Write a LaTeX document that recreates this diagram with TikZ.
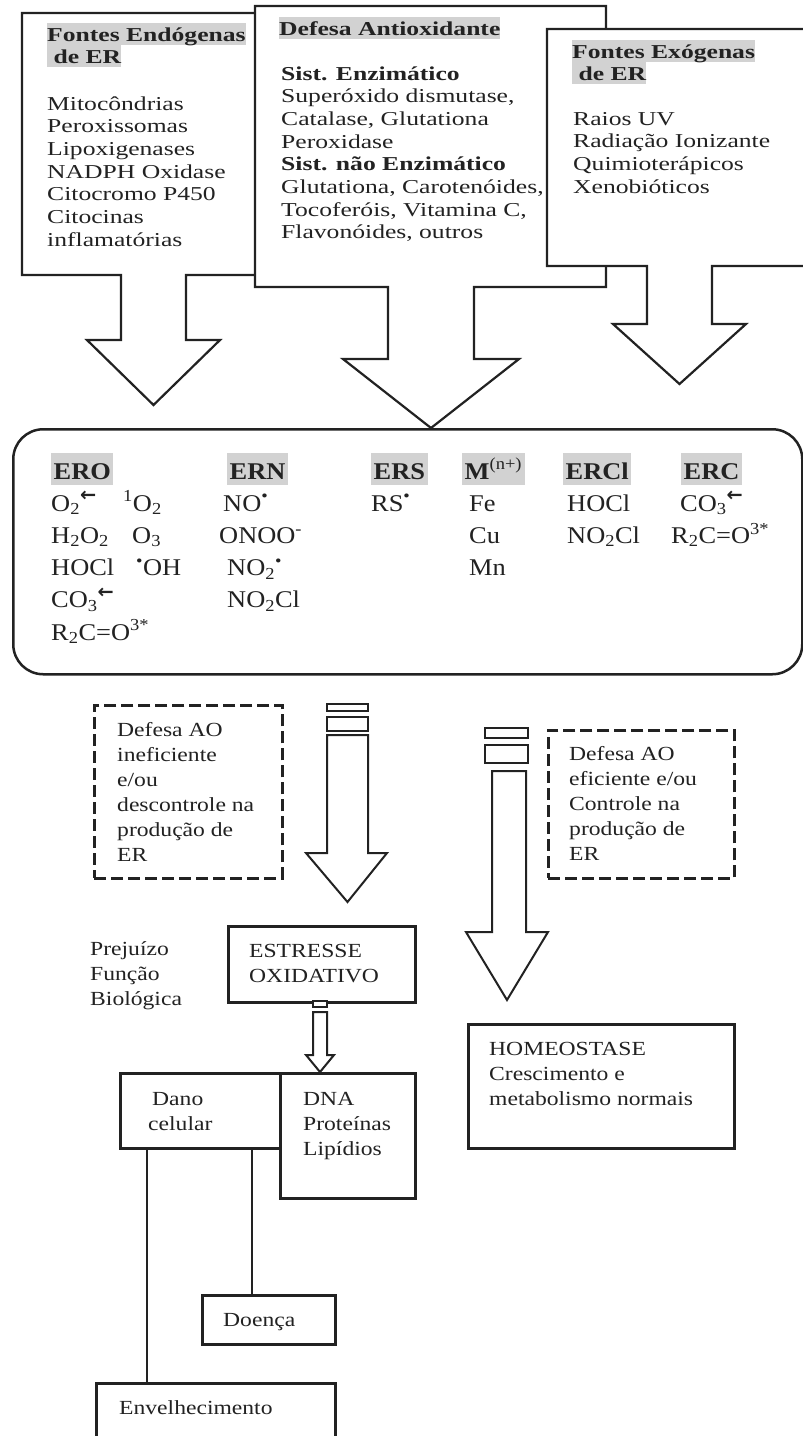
\documentclass[tikz,border=0pt]{standalone}
\usepackage{fontspec}
\setmainfont{Liberation Serif}
\newfontfamily\topfont[FakeStretch=1.3]{Liberation Serif}
\newfontfamily\boxfont[FakeStretch=1.1]{Liberation Serif}
\newfontfamily\lowfont[FakeStretch=1.18]{Liberation Serif}
\newfontfamily\symfont{DejaVu Sans}
\usepackage{tikz}
\usetikzlibrary{positioning}
\definecolor{inkgray}{HTML}{222222}
\definecolor{hdrgray}{HTML}{D2D2D2}
\newcommand{\ssub}[1]{\textsubscript{#1}}
\newcommand{\rad}{\textsuperscript{•}}
\newcommand{\radan}{\textsuperscript{{\symfont\bfseries\scalebox{1.15}{←}}}}

\begin{document}
\begin{tikzpicture}[x=1pt,y=-1pt,color=inkgray,
srcbox/.style={draw=inkgray,line width=2.2pt,fill=white,line join=miter},
hdr/.style={fill=hdrgray,inner sep=0pt,text height=18pt,text depth=4pt,anchor=base west,font=\topfont\bfseries\fontsize{19.7}{22.7}\selectfont},
toptxt/.style={align=left,anchor=base west,inner sep=0pt,font=\topfont\fontsize{19.7}{22.7}\selectfont},
boxhdr/.style={fill=hdrgray,inner xsep=2.5pt,inner ysep=0pt,text height=26pt,text depth=6pt,anchor=base west,font=\boxfont\bfseries\fontsize{24}{32.25}\selectfont},
coltxt/.style={align=left,anchor=base west,inner sep=0pt,font=\boxfont\fontsize{24}{32.25}\selectfont},
lowtxt/.style={align=left,anchor=base west,inner sep=0pt,font=\lowfont\fontsize{20}{25}\selectfont},
dashbox/.style={draw=inkgray,line width=2.6pt,dash pattern=on 12pt off 5pt,anchor=north west,inner sep=0pt},
solidbox/.style={draw=inkgray,line width=2.8pt,fill=white,anchor=north west,inner sep=0pt},
hollow/.style={draw=inkgray,line width=2pt,fill=white,line join=miter},
link/.style={draw=inkgray,line width=2.6pt}
]
\useasboundingbox (0,0) rectangle (803,1436);
\clip (0,0) rectangle (803,1436);
\fill[white] (0,0) rectangle (803,1436);

\draw[srcbox] (22,13) -- (300,13) -- (300,275) -- (186,275) -- (186,340) -- (220,340) -- (153.5,405) -- (87,340) -- (121,340) -- (121,275) -- (22,275) -- cycle;
\node[hdr] (endo1) at (47,41) {Fontes Endógenas};
\node[hdr] (endo2) at (47,63) {~de ER};
\node[toptxt] (endolist) at (47,246.2) {Mitocôndrias\\Peroxissomas\\Lipoxigenases\\NADPH Oxidase\\Citocromo P450\\Citocinas\\inflamatórias};

\draw[srcbox] (255,6) -- (606,6) -- (606,287) -- (474,287) -- (474,359) -- (519,359) -- (431,428) -- (343,359) -- (388,359) -- (388,287) -- (255,287) -- cycle;
\node[hdr] (defesa) at (279,35) {Defesa Antioxidante};
\node[toptxt] (deflist) at (281,238.9) {\textbf{Sist. Enzimático}\\Superóxido dismutase,\\Catalase, Glutationa\\Peroxidase\\\textbf{Sist. não Enzimático}\\Glutationa, Carotenóides,\\Tocoferóis, Vitamina C,\\Flavonóides, outros};

\draw[srcbox] (547,29) -- (815,29) -- (815,266) -- (712,266) -- (712,324) -- (746,324) -- (679.5,384) -- (613,324) -- (647,324) -- (647,266) -- (547,266) -- cycle;
\node[hdr] (exo1) at (572,58) {Fontes Exógenas};
\node[hdr] (exo2) at (572,80) {~de ER};
\node[toptxt] (exolist) at (573,193.1) {Raios UV\\Radiação Ionizante\\Quimioterápicos\\Xenobióticos};

\node[draw=inkgray,line width=2.5pt,rounded corners=30pt,minimum width=789pt,minimum height=245pt,anchor=north west,inner sep=0pt] (especies) at (12,428) {};
\node[boxhdr] (ero) at (51,479) {ERO};
\node[boxhdr] (ern) at (227,479) {ERN};
\node[boxhdr] (ers) at (371,479) {ERS};
\node[boxhdr] (metal) at (462,479) {M\textsuperscript{\mdseries(n+)}};
\node[boxhdr] (ercl) at (563,479) {ERCl\hspace{8pt}};
\node[boxhdr] (erc) at (681,479) {ERC};
\node[coltxt] (erolist) at (51,640) {\makebox[72pt][l]{O\ssub{2}\radan}\textsuperscript{1}O\ssub{2}\\\makebox[81pt][l]{H\ssub{2}O\ssub{2}}O\ssub{3}\\\makebox[85pt][l]{HOCl}\textsuperscript{•}OH\\CO\ssub{3}\radan\\R\ssub{2}C=O\textsuperscript{3*}};
\node[coltxt] (ernlist) at (219,607.75) {\hspace*{4pt}NO\rad\\ONOO\textsuperscript{-}\\\hspace*{8pt}NO\ssub{2}\rad\\\hspace*{8pt}NO\ssub{2}Cl};
\node[coltxt] (erslist) at (371,511) {RS\rad};
\node[coltxt] (metallist) at (469,575.5) {Fe\\Cu\\Mn};
\node[coltxt] (ercllist) at (567,543.25) {HOCl\\NO\ssub{2}Cl};
\node[coltxt] (erclist) at (671,543.25) {\hspace*{9pt}CO\ssub{3}\radan\\R\ssub{2}C=O\textsuperscript{3*}};

\node[dashbox,minimum width=188pt,minimum height=173pt] (ineficiente) at (93,704) {};
\node[lowtxt] (inefftxt) at (117,861) {Defesa AO\\ineficiente\\e/ou\\descontrole na\\produção de\\ER};
\node[dashbox,minimum width=186pt,minimum height=148pt] (eficiente) at (547,729) {};
\node[lowtxt] (efftxt) at (569,860) {Defesa AO\\eficiente e/ou\\Controle na\\produção de\\ER};

\draw[hollow] (327,704) rectangle (368,711);
\draw[hollow] (327,717) rectangle (368,731);
\draw[hollow] (327,735) -- (327,853) -- (306,853) -- (347.5,902) -- (387,853) -- (368,853) -- (368,735) -- cycle;
\draw[hollow] (485,728) rectangle (528,738);
\draw[hollow] (485,745) rectangle (528,763);
\draw[hollow] (492,771) -- (492,932) -- (466,932) -- (507,1000) -- (548,932) -- (526,932) -- (526,771) -- cycle;

\node[lowtxt] (prejuizo) at (90,1005) {Prejuízo\\Função\\Biológica};
\node[solidbox,minimum width=187pt,minimum height=76pt] (estresse) at (227,925) {};
\node[lowtxt] (estrtxt) at (249,982) {ESTRESSE\\OXIDATIVO};

\draw[hollow] (313,1001) rectangle (327,1007);
\draw[hollow] (313,1012) -- (313,1055) -- (306,1055) -- (320,1072) -- (334,1055) -- (327,1055) -- (327,1012) -- cycle;

\node[solidbox,minimum width=160pt,minimum height=75pt] (dano) at (119,1072) {};
\node[lowtxt] (danotxt) at (148,1130) {\hspace*{4pt}Dano\\celular};
\node[solidbox,minimum width=135pt,minimum height=125pt] (alvos) at (279,1072) {};
\node[lowtxt] (alvostxt) at (303,1155) {DNA\\Proteínas\\Lipídios};
\node[solidbox,minimum width=266pt,minimum height=124pt] (homeo) at (467,1023) {};
\node[lowtxt] (homeotxt) at (489,1105) {HOMEOSTASE\\Crescimento e\\metabolismo normais};
\node[solidbox,minimum width=133pt,minimum height=49pt] (doenca) at (201,1294) {};
\node[lowtxt] (doencatxt) at (223,1326) {Doença};
\node[solidbox,minimum width=239pt,minimum height=100pt] (envelh) at (95,1382) {};
\node[lowtxt] (envelhtxt) at (119,1414) {Envelhecimento};

\draw[link] (147,0 |- dano.south) -- (147,0 |- envelh.north);
\draw[link] (252,0 |- dano.south) -- (252,0 |- doenca.north);
\end{tikzpicture}
\end{document}
